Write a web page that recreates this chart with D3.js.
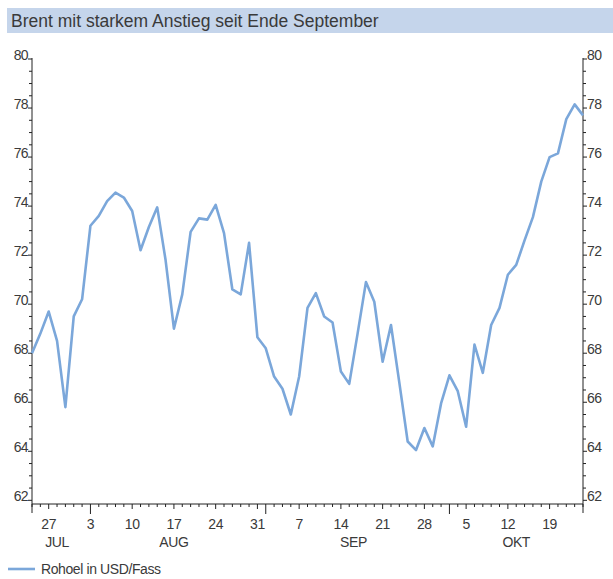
<!DOCTYPE html>
<html>
<head>
<meta charset="utf-8">
<script src="https://cdn.jsdelivr.net/npm/d3@7"></script>
<style>
  html, body { margin: 0; padding: 0; background: #fff; }
  svg text { font-family: 'Liberation Sans', Arial, sans-serif; fill: #3a3a3a; }
</style>
</head>
<body>
<script>
// Brent daily closes, trading days only (x axis skips weekends)
var tradingDays = [
  '2009-07-23', '2009-07-24', '2009-07-27', '2009-07-28', '2009-07-29', '2009-07-30', '2009-07-31',
  '2009-08-03', '2009-08-04', '2009-08-05', '2009-08-06', '2009-08-07',
  '2009-08-10', '2009-08-11', '2009-08-12', '2009-08-13', '2009-08-14',
  '2009-08-17', '2009-08-18', '2009-08-19', '2009-08-20', '2009-08-21',
  '2009-08-24', '2009-08-25', '2009-08-26', '2009-08-27', '2009-08-28',
  '2009-08-31', '2009-09-01', '2009-09-02', '2009-09-03', '2009-09-04',
  '2009-09-07', '2009-09-08', '2009-09-09', '2009-09-10', '2009-09-11',
  '2009-09-14', '2009-09-15', '2009-09-16', '2009-09-17', '2009-09-18',
  '2009-09-21', '2009-09-22', '2009-09-23', '2009-09-24', '2009-09-25',
  '2009-09-28', '2009-09-29', '2009-09-30', '2009-10-01', '2009-10-02',
  '2009-10-05', '2009-10-06', '2009-10-07', '2009-10-08', '2009-10-09',
  '2009-10-12', '2009-10-13', '2009-10-14', '2009-10-15', '2009-10-16',
  '2009-10-19', '2009-10-20', '2009-10-21', '2009-10-22', '2009-10-23'
];

var brentUsd = [
  68.0, 68.8, 69.7, 68.5, 65.8, 69.5, 70.2,
  73.2, 73.6, 74.2, 74.55, 74.35,
  73.8, 72.2, 73.15, 73.95, 71.8,
  69.0, 70.4, 72.95, 73.5, 73.45,
  74.05, 72.9, 70.6, 70.4, 72.5,
  68.65, 68.2, 67.05, 66.55, 65.5,
  67.05, 69.85, 70.45, 69.5, 69.25,
  67.25, 66.75, 68.8, 70.9, 70.1,
  67.65, 69.15, 66.8, 64.4, 64.05,
  64.95, 64.2, 65.95, 67.1, 66.45,
  65.0, 68.35, 67.2, 69.15, 69.85,
  71.2, 71.6, 72.6, 73.55, 75.0,
  76.0, 76.15, 77.55, 78.15, 77.7
];

var yTickValues = [62, 64, 66, 68, 70, 72, 74, 76, 78, 80];
var monthLabels = ['JUL', 'AUG', 'SEP', 'OKT'];

var chartTitle = 'Brent mit starkem Anstieg seit Ende September';
var legendLabel = 'Rohoel in USD/Fass';

// Layout
var width = 613, height = 579;
var plot = { left: 32, right: 583, top: 59, bottom: 504 };
var lineColor = '#7ba7da';

var parseDay = d3.timeParse('%Y-%m-%d');
var days = tradingDays.map(parseDay);

var svg = d3.select('body').append('svg')
  .attr('width', width)
  .attr('height', height);

// Title band
svg.append('rect')
  .attr('x', 7).attr('y', 8)
  .attr('width', width - 7).attr('height', 25)
  .attr('fill', '#c5d5eb');
svg.append('text')
  .attr('x', 11).attr('y', 27)
  .attr('font-size', 17.5)
  .attr('fill', '#2b2b2b')
  .text(chartTitle);

// Scales
var x = d3.scalePoint()
  .domain(d3.range(days.length))
  .range([plot.left, plot.right]);

var y = d3.scaleLinear()
  .domain([61.85, 80])
  .range([plot.bottom, plot.top]);

var minorY = d3.range(62, 80.01, 0.5);

// Y axes, both sides
var drawYAxis = function(xPos, dir) {
  var g = svg.append('g').attr('stroke', '#222').attr('stroke-width', 1);
  g.append('line')
    .attr('x1', xPos).attr('x2', xPos)
    .attr('y1', plot.top - 1).attr('y2', plot.bottom + 9);
  g.selectAll('line.minor')
    .data(minorY)
    .enter().append('line')
    .attr('class', 'minor')
    .attr('x1', xPos).attr('x2', d => xPos + dir * (d % 2 === 0 ? 4 : 3))
    .attr('y1', d => y(d)).attr('y2', d => y(d));
  svg.append('g').selectAll('text')
    .data(yTickValues)
    .enter().append('text')
    .attr('x', xPos + dir * 4)
    .attr('y', d => y(d) + 1)
    .attr('text-anchor', dir < 0 ? 'end' : 'start')
    .attr('font-size', 14)
    .attr('letter-spacing', -0.6)
    .text(d => d);
}
drawYAxis(plot.left, -1);
drawYAxis(plot.right, 1);

// X axis: tick per trading day, longer on Mondays, longest on the first trading day of a month
var xg = svg.append('g').attr('stroke', '#222').attr('stroke-width', 1);
xg.append('line')
  .attr('x1', plot.left).attr('x2', plot.right)
  .attr('y1', plot.bottom).attr('y2', plot.bottom);

var isMonthStart = function(i) {
  return i > 0 && days[i].getMonth() !== days[i - 1].getMonth();
}
var isMonday = function(i) { return days[i].getDay() === 1; }

xg.selectAll('line.tick')
  .data(d3.range(days.length))
  .enter().append('line')
  .attr('class', 'tick')
  .attr('x1', i => x(i)).attr('x2', i => x(i))
  .attr('y1', plot.bottom)
  .attr('y2', i => plot.bottom + (isMonthStart(i) ? 10 : isMonday(i) ? 5 : 3));

svg.append('g').selectAll('text')
  .data(d3.range(days.length).filter(isMonday))
  .enter().append('text')
  .attr('x', i => x(i))
  .attr('y', 529)
  .attr('text-anchor', 'middle')
  .attr('font-size', 14)
  .attr('letter-spacing', -0.4)
  .text(i => days[i].getDate());

// Month names centred over the part of each month that is shown
var months = d3.groups(d3.range(days.length), i => days[i].getMonth());
svg.append('g').selectAll('text')
  .data(months)
  .enter().append('text')
  .attr('x', m => (x(m[1][0]) + x(m[1][m[1].length - 1])) / 2)
  .attr('y', 547)
  .attr('text-anchor', 'middle')
  .attr('font-size', 14)
  .attr('letter-spacing', -0.4)
  .text((m, k) => monthLabels[k]);

// Price line
var line = d3.line()
  .x((d, i) => x(i))
  .y(d => y(d));

svg.append('path')
  .datum(brentUsd)
  .attr('d', line)
  .attr('fill', 'none')
  .attr('stroke', lineColor)
  .attr('stroke-width', 2.6)
  .attr('stroke-linejoin', 'round');

// Legend
svg.append('line')
  .attr('x1', 8).attr('x2', 35)
  .attr('y1', 569).attr('y2', 569)
  .attr('stroke', lineColor)
  .attr('stroke-width', 2.6);
svg.append('text')
  .attr('x', 41).attr('y', 574)
  .attr('font-size', 14)
  .attr('letter-spacing', -0.4)
  .text(legendLabel);
</script>
</body>
</html>
